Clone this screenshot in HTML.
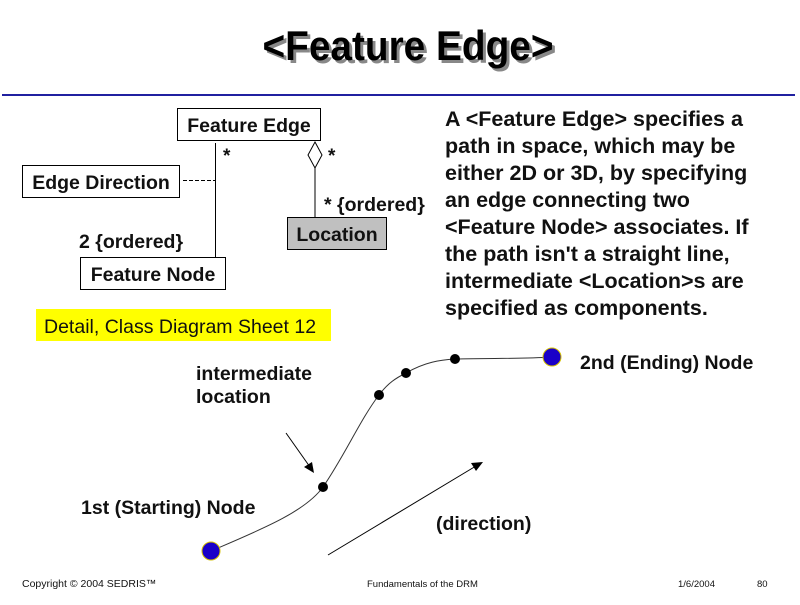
<!DOCTYPE html>
<html><head><meta charset="utf-8"><style>
body{margin:0;background:#fff;}
svg text{font-family:"Liberation Sans",Arial,sans-serif;}
</style></head><body>
<svg width="800" height="600" viewBox="0 0 800 600" xmlns="http://www.w3.org/2000/svg">
<rect width="800" height="600" fill="#fff"/>
<!-- title -->
<g transform="translate(408,60) scale(0.97,1.05)">
<text x="3" y="3" text-anchor="middle" font-size="40" font-weight="bold" fill="#888">&lt;Feature Edge&gt;</text>
<text x="0" y="0" text-anchor="middle" font-size="40" font-weight="bold" fill="#000">&lt;Feature Edge&gt;</text>
</g>
<line x1="2" y1="95" x2="795" y2="95" stroke="#2020a0" stroke-width="2"/>

<!-- UML boxes -->
<rect x="177.5" y="108.5" width="143" height="32" fill="#fff" stroke="#000"/>
<text x="249" y="132" text-anchor="middle" font-size="19.5" font-weight="bold" fill="#111">Feature Edge</text>
<rect x="22.5" y="165.5" width="157" height="32" fill="#fff" stroke="#000"/>
<text x="101" y="189" text-anchor="middle" font-size="19.5" font-weight="bold" fill="#111">Edge Direction</text>
<rect x="80.5" y="257.5" width="145" height="32" fill="#fff" stroke="#000"/>
<text x="153" y="281" text-anchor="middle" font-size="19.5" font-weight="bold" fill="#111">Feature Node</text>
<rect x="287.5" y="217.5" width="99" height="32" fill="#c0c0c0" stroke="#000"/>
<text x="337" y="241" text-anchor="middle" font-size="19.5" font-weight="bold" fill="#111">Location</text>

<line x1="215.5" y1="143" x2="215.5" y2="257" stroke="#000"/>
<line x1="183" y1="180.5" x2="215" y2="180.5" stroke="#000" stroke-dasharray="4,2"/>
<path d="M315 142 L322 155 L315 168 L308 155 Z" fill="#fff" stroke="#000"/>
<line x1="315" y1="168" x2="315" y2="217" stroke="#000"/>
<text x="223" y="162" font-size="19" font-weight="bold" fill="#111">*</text>
<text x="328" y="162" font-size="19" font-weight="bold" fill="#111">*</text>
<text x="324" y="211" font-size="19.5" font-weight="bold" fill="#111">* {ordered}</text>
<text x="79" y="248" font-size="19.5" font-weight="bold" fill="#111">2 {ordered}</text>

<rect x="36" y="309" width="295" height="32" fill="#ffff00"/>
<text x="44" y="333" font-size="19.5" fill="#111">Detail, Class Diagram Sheet 12</text>

<!-- paragraph -->
<g font-size="21.5" font-weight="bold" fill="#111">
<text x="445" y="126">A &lt;Feature Edge&gt; specifies a</text>
<text x="445" y="153">path in space, which may be</text>
<text x="445" y="180">either 2D or 3D, by specifying</text>
<text x="445" y="207">an edge connecting two</text>
<text x="445" y="234">&lt;Feature Node&gt; associates. If</text>
<text x="445" y="261">the path isn't a straight line,</text>
<text x="445" y="288">intermediate &lt;Location&gt;s are</text>
<text x="445" y="315">specified as components.</text>
</g>

<!-- curve -->
<path d="M211 551 C260 530 305 512 323 487 C345 455 360 420 379 395 C388 383 396 378 406 373 C425 362 440 360 455 359 C490 358 520 359 552 357" fill="none" stroke="#333" stroke-width="1"/>
<circle cx="323" cy="487" r="5" fill="#000"/>
<circle cx="379" cy="395" r="5" fill="#000"/>
<circle cx="406" cy="373" r="5" fill="#000"/>
<circle cx="455" cy="359" r="5" fill="#000"/>
<circle cx="211" cy="551" r="9" fill="#1a00c8" stroke="#d4c000" stroke-width="1"/>
<circle cx="552" cy="357" r="9" fill="#1a00c8" stroke="#d4c000" stroke-width="1"/>

<line x1="286" y1="433" x2="310" y2="467" stroke="#000"/>
<path d="M314 473 L304 467 L312 462 Z" fill="#000"/>
<line x1="328" y1="555" x2="476" y2="466" stroke="#000"/>
<path d="M483 462 L471 463 L476 471 Z" fill="#000"/>

<g font-size="19.5" font-weight="bold" fill="#111">
<text x="196" y="380">intermediate</text>
<text x="196" y="403">location</text>
<text x="81" y="514">1st (Starting) Node</text>
<text x="436" y="530">(direction)</text>
<text x="580" y="369">2nd (Ending) Node</text>
</g>

<g font-size="9.5" fill="#111">
<text x="22" y="587" font-size="10.5">Copyright © 2004 SEDRIS™</text>
<text x="367" y="587">Fundamentals of the DRM</text>
<text x="678" y="587">1/6/2004</text>
<text x="757" y="587">80</text>
</g>
</svg>
</body></html>
